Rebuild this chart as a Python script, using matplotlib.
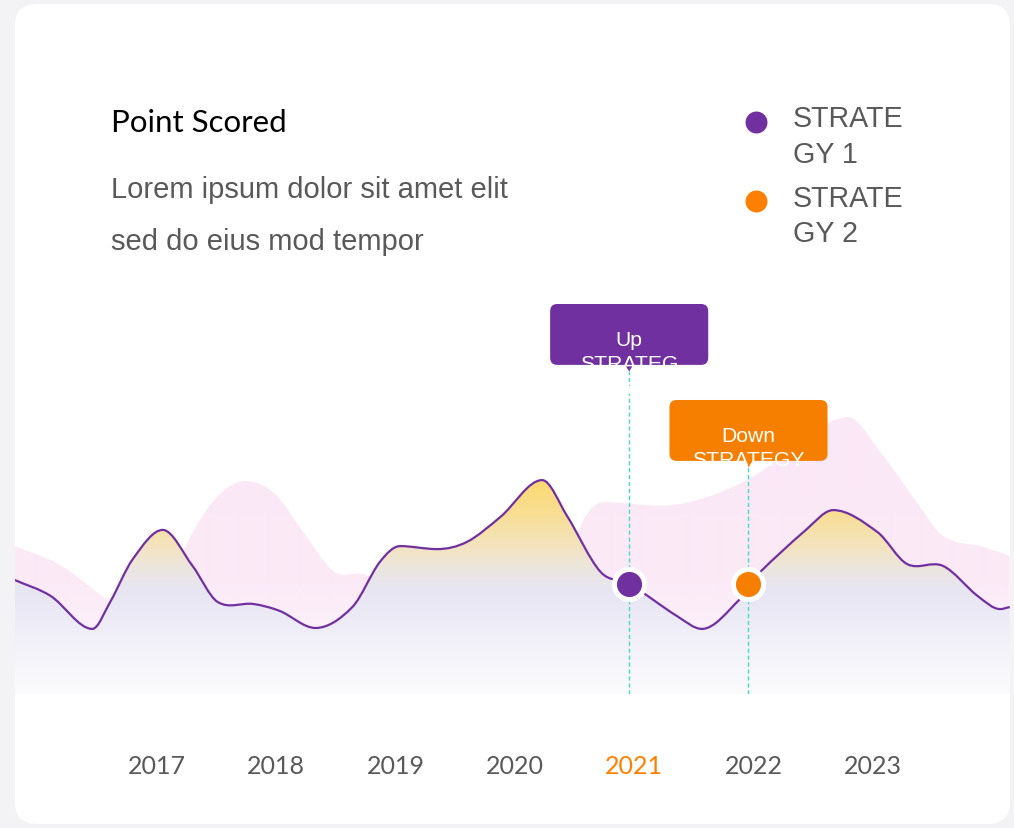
import numpy as np
import matplotlib
matplotlib.use("Agg")
import matplotlib.pyplot as plt
import matplotlib.transforms as mtrans
from matplotlib.path import Path
from matplotlib.patches import PathPatch, FancyBboxPatch, Polygon


# ---- data (x in years, y in points) ----
years = [2017, 2018, 2019, 2020, 2021, 2022, 2023]
year_labels = ["2017", "2018", "2019", "2020", "2021", "2022", "2023"]

line_x = [2015.85, 2016.15, 2016.50, 2016.65, 2016.84, 2017.09, 2017.34, 2017.55,
          2017.85, 2018.07, 2018.37, 2018.68, 2018.91, 2019.08, 2019.39, 2019.64,
          2019.92, 2020.27, 2020.48, 2020.76, 2021.00, 2021.40, 2021.61, 2021.93,
          2022.00, 2022.49, 2022.71, 2023.08, 2023.33, 2023.63, 2023.92, 2024.11, 2024.19]
line_y = [38.0, 32.7, 21.7, 30.7, 45.0, 54.7, 42.7, 30.7,
          30.0, 27.7, 22.0, 29.0, 44.0, 49.3, 48.3, 50.7,
          59.0, 71.3, 59.3, 40.7, 36.7, 26.0, 21.7, 31.7,
          36.7, 55.0, 61.3, 54.0, 43.3, 42.7, 32.7, 28.3, 29.0]

shade_x = [2015.85, 2016.23, 2016.65, 2016.98, 2017.29, 2017.53, 2017.78, 2018.03,
           2018.28, 2018.53, 2018.79, 2019.25, 2020.08, 2020.46, 2020.63, 2020.80,
           2021.26, 2021.68, 2022.10, 2022.43, 2022.83, 2023.13, 2023.41, 2023.63,
           2023.97, 2024.19]
shade_y = [49.3, 43.0, 30.7, 23.3, 50.0, 65.0, 71.0, 66.7,
           53.3, 40.7, 39.7, 28.3, 26.7, 41.7, 59.0, 64.0,
           62.7, 66.0, 74.0, 84.3, 92.3, 79.3, 64.0, 52.7,
           49.0, 46.0]

callout_years = [2021, 2022]
callout_values = [36.7, 36.7]
callout_bottoms = [109.7, 77.7]
callout_lines = [["Up", "STRATEG", "Y"], ["Down", "STRATEGY"]]
callout_colors = ["#7030A0", "#F77F00"]

legend_labels = [["STRATE", "GY 1"], ["STRATE", "GY 2"]]
legend_colors = ["#7030A0", "#FF8000"]

XMIN, XMAX = 2015.852, 2024.192
YMAX = 133.33


def smooth_path(xs, ys, closed=False):
    xs = np.asarray(xs, float)
    ys = np.asarray(ys, float)
    n = len(xs)
    m = np.zeros(n)
    m[0] = (ys[1] - ys[0]) / (xs[1] - xs[0])
    m[-1] = (ys[-1] - ys[-2]) / (xs[-1] - xs[-2])
    for i in range(1, n - 1):
        if (ys[i] - ys[i - 1]) * (ys[i + 1] - ys[i]) > 0:
            m[i] = (ys[i + 1] - ys[i - 1]) / (xs[i + 1] - xs[i - 1])
    verts = [(xs[0], ys[0])]
    codes = [Path.MOVETO]
    for i in range(n - 1):
        dx = xs[i + 1] - xs[i]
        verts += [(xs[i] + dx / 3, ys[i] + m[i] * dx / 3),
                  (xs[i + 1] - dx / 3, ys[i + 1] - m[i + 1] * dx / 3),
                  (xs[i + 1], ys[i + 1])]
        codes += [Path.CURVE4] * 3
    if closed:
        verts += [(xs[-1], 0), (xs[0], 0), (xs[0], ys[0])]
        codes += [Path.LINETO, Path.LINETO, Path.CLOSEPOLY]
    return Path(verts, codes)


def gradient(stops, n=400):
    v = np.linspace(0, YMAX, n)
    sv = [s[0] for s in stops]
    arr = np.zeros((n, 1, 4))
    for c in range(4):
        arr[:, 0, c] = np.interp(v, sv, [s[1][c] for s in stops])
    return arr


def rgb(r, g, b, a=1.0):
    return (r / 255, g / 255, b / 255, a)


def main():
    fig = plt.figure(figsize=(10.14, 8.29), dpi=100, facecolor="#F3F3F6")

    # background / card layer in pixel units
    bg = fig.add_axes([0, 0, 1, 1])
    bg.set_xlim(0, 1014)
    bg.set_ylim(829, 0)
    bg.axis("off")
    bg.add_patch(FancyBboxPatch((15, 5), 995, 820, boxstyle="round,pad=0,rounding_size=22",
                                fc="white", ec="none"))
    band = np.zeros((50, 1, 4))
    band[:, 0, :3] = np.array([244, 244, 250]) / 255
    band[:, 0, 3] = np.concatenate([np.ones(17), np.linspace(1, 0, 33)])
    bg.imshow(band, extent=(15, 1010, 745, 695), aspect="auto", interpolation="bilinear")
    bg.set_xlim(0, 1014)
    bg.set_ylim(829, 0)

    bg.text(111, 131.7, "Point Scored", fontfamily="Lato", fontsize=22.5, color="#000000",
            va="baseline")
    bg.text(111, 198, "Lorem ipsum dolor sit amet elit", fontfamily="Liberation Sans",
            fontsize=21, color="#595959", va="baseline")
    bg.text(111, 250, "sed do eius mod tempor", fontfamily="Liberation Sans",
            fontsize=21, color="#595959", va="baseline")

    for k, (lines, col) in enumerate(zip(legend_labels, legend_colors)):
        top = 127.3 + k * 79.4
        bg.scatter([756], [top - 4.5], s=300, color=col, edgecolor="white", lw=1.5, zorder=3)
        for j, txt in enumerate(lines):
            bg.text(792.7, top + j * 35.4, txt, fontfamily="Liberation Sans", fontsize=20.6,
                    color="#595959", va="baseline")

    # chart layer
    ax = fig.add_axes([15 / 1014, 134 / 829, 995 / 1014, 400 / 829])
    ax.set_zorder(1)
    ax.patch.set_alpha(0)

    pink = gradient([(0, rgb(251, 232, 246, 0.3)),
                     (40, rgb(251, 232, 246, 0.95)),
                     (YMAX, rgb(251, 232, 246, 1.0))])
    im1 = ax.imshow(pink, extent=(XMIN, XMAX, 0, YMAX), origin="lower", aspect="auto",
                    interpolation="bilinear", zorder=1)
    im1.set_clip_path(PathPatch(smooth_path(shade_x, shade_y, closed=True), transform=ax.transData))

    fillc = gradient([(0, rgb(251, 251, 253)),
                      (12, rgb(245, 244, 250)),
                      (25, rgb(237, 235, 246)),
                      (35, rgb(231, 229, 242)),
                      (42, rgb(236, 230, 222)),
                      (50, rgb(243, 227, 188)),
                      (60, rgb(248, 222, 148)),
                      (72, rgb(252, 217, 110)),
                      (YMAX, rgb(252, 217, 110))])
    im2 = ax.imshow(fillc, extent=(XMIN, XMAX, 0, YMAX), origin="lower", aspect="auto",
                    interpolation="bilinear", zorder=2)
    im2.set_clip_path(PathPatch(smooth_path(line_x, line_y, closed=True), transform=ax.transData))

    ax.add_patch(PathPatch(smooth_path(line_x, line_y), fc="none", ec="#7030A0", lw=1.6, zorder=3))

    bw, bh = 1.325, 20.3
    for yr, val, bot, lines, col in zip(callout_years, callout_values, callout_bottoms,
                                        callout_lines, callout_colors):
        ax.vlines(yr, 0, bot - 2, colors="#3FDDC4", linestyles=(0, (3, 2)), lw=1, zorder=4)
        ax.scatter([yr], [val], s=470, color=col, edgecolor="white", lw=3.6, zorder=5)
        box = FancyBboxPatch((yr - bw / 2, bot), bw, bh,
                             boxstyle="round,pad=0,rounding_size=0.06",
                             mutation_aspect=bh / bw * 158 / 61,
                             fc=col, ec="none", zorder=6)
        ax.add_patch(box)
        ax.add_patch(Polygon([(yr - 0.035, bot + 0.1), (yr + 0.035, bot + 0.1), (yr, bot - 2.2)],
                             closed=True, fc=col, ec="none", zorder=6))
        for j, txt in enumerate(lines):
            t = ax.text(yr, bot + 6.7 - j * 8.0, txt, ha="center", va="baseline",
                        fontfamily="Liberation Sans", fontsize=15.2, color="white", zorder=7)
            t.set_clip_path(box)

    ax.set_xlim(XMIN, XMAX)
    ax.set_ylim(0, YMAX)
    ax.set_yticks([])
    ax.set_xticks(years)
    ax.set_xticklabels(year_labels, fontfamily="Lato", fontsize=18, color="#595959")
    ax.get_xticklabels()[4].set_color("#FF8000")
    ax.tick_params(axis="x", length=0, pad=43)
    shift = mtrans.ScaledTranslation(0.05, 0, fig.dpi_scale_trans)
    for lab in ax.get_xticklabels():
        lab.set_transform(lab.get_transform() + shift)
    for s in ax.spines.values():
        s.set_visible(False)

    fig.savefig("out.png", dpi=100, facecolor=fig.get_facecolor())


if __name__ == "__main__":
    main()
